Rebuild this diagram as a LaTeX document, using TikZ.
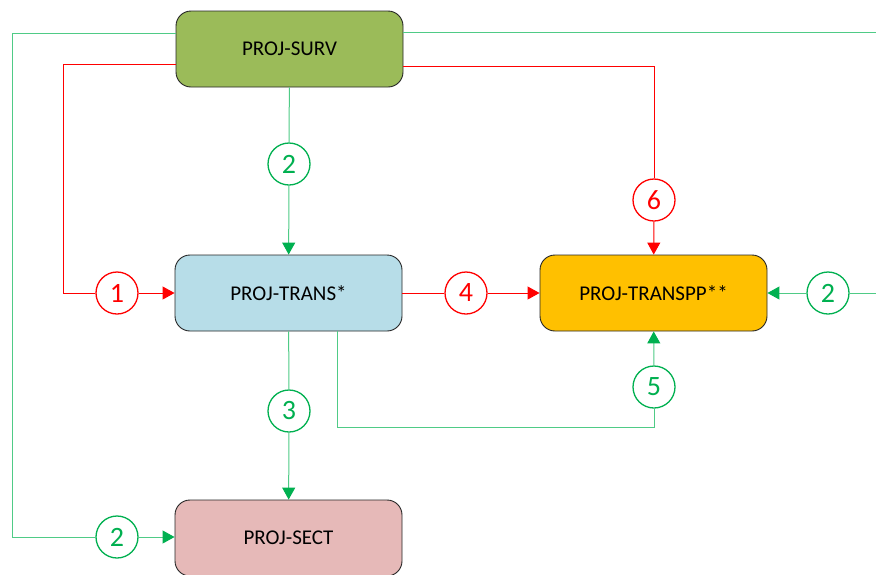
\documentclass[tikz,border=0pt]{standalone}
\usepackage{fontspec}
\setmainfont{Carlito}
\usetikzlibrary{arrows.meta}
\definecolor{survfill}{HTML}{9BBB59}
\definecolor{transfill}{HTML}{B7DDE8}
\definecolor{ppfill}{HTML}{FFC000}
\definecolor{sectfill}{HTML}{E6B9B8}
\definecolor{gcol}{HTML}{00B050}
\definecolor{glight}{HTML}{4FCB86}
\definecolor{rcol}{HTML}{FF0000}
\tikzset{
  box/.style={draw=black!85, line width=0.9pt, rounded corners=15pt,
    minimum width=227pt, minimum height=76pt, inner sep=0pt,
    font=\fontsize{21}{25}\selectfont},
  gnum/.style={circle, draw=gcol, fill=white, line width=1.3pt, text=gcol,
    minimum size=42pt, inner sep=0pt, font=\fontsize{28}{32}\selectfont},
  rnum/.style={gnum, draw=rcol, text=rcol},
  gline/.style={draw=glight, line width=1pt},
  rline/.style={draw=rcol, line width=1pt},
  garrow/.style={gline, -{Triangle[length=12pt,width=13pt,fill=gcol,color=gcol]}},
  rarrow/.style={rline, -{Triangle[length=12pt,width=13pt]}},
}
\begin{document}
\begin{tikzpicture}[x=1pt,y=-1pt]
\clip (0,0) rectangle (876,574);
\fill[white] (0,0) rectangle (876,574);

% process boxes
\node[box, fill=survfill]  (surv)    at (289.5,49)  {PROJ-SURV};
\node[box, fill=transfill] (trans)   at (288.5,293) {PROJ-TRANS*};
\node[box, fill=ppfill]    (transpp) at (653.5,293) {PROJ-TRANSPP**};
\node[box, fill=sectfill]  (sect)    at (288.5,538) {PROJ-SECT};

% numbered markers
\node[rnum] (c1)  at (117,293) {1};
\node[gnum] (c2a) at (289,164) {2};
\node[gnum] (c2b) at (828,293) {2};
\node[gnum] (c2d) at (117,537) {2};
\node[gnum] (c3)  at (289,411) {3};
\node[rnum] (c4)  at (466,293) {4};
\node[gnum] (c5)  at (654,387) {5};
\node[rnum] (c6)  at (654,200) {6};

% green: SURV -> SECT around the left
\draw[gline] (surv.west |- 0,33) -- (12,33) -- (12,537) -- (c2d);
\draw[garrow] (c2d) -- (sect.west |- c2d);

% red: SURV -> TRANS around the left
\draw[rline] (surv.west |- 0,64) -- (63,64) -- (63,293) -- (c1);
\draw[rarrow] (c1) -- (trans);

% green: SURV -> TRANS
\draw[gline] (surv) -- (c2a);
\draw[garrow] (c2a) -- (trans);

% green: SURV -> TRANSPP around the right
\draw[gline] (surv.east |- 0,32) -- (880,32) -- (880,293) -- (c2b);
\draw[garrow] (c2b) -- (transpp);

% red: SURV -> TRANSPP from above
\draw[rline] (surv.east |- 0,66) -- (654,66) -- (c6);
\draw[rarrow] (c6) -- (transpp);

% red: TRANS -> TRANSPP
\draw[rline] (trans) -- (c4);
\draw[rarrow] (c4) -- (transpp);

% green: TRANS -> SECT
\draw[gline] (trans) -- (c3);
\draw[garrow] (c3) -- (sect);

% green: TRANS -> TRANSPP from below
\draw[gline] (trans.south -| 337,0) -- (337,427) -- (654,427) -- (c5);
\draw[garrow] (c5) -- (transpp);
\end{tikzpicture}
\end{document}
